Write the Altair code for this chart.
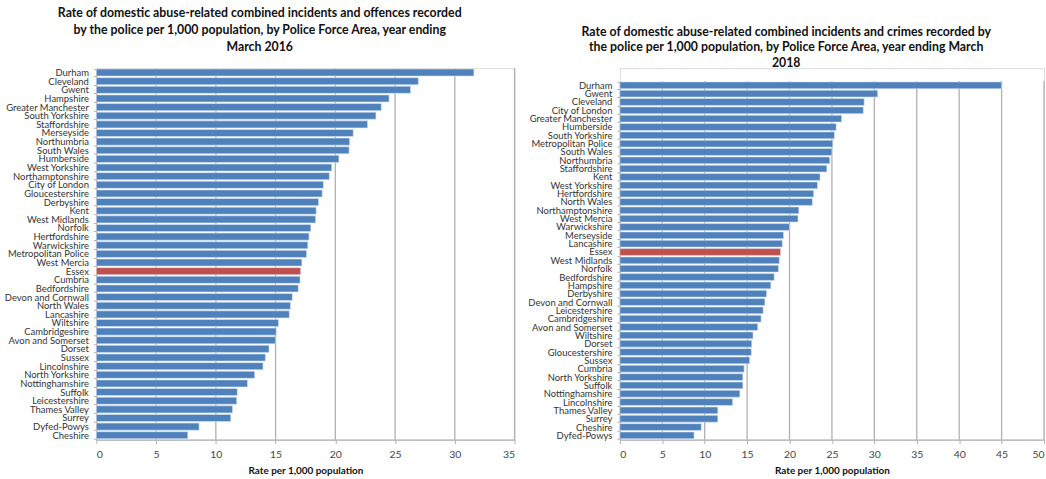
import altair as alt
import pandas as pd

# 2016 chart data
forces_2016 = ["Durham", "Cleveland", "Gwent", "Hampshire", "Greater Manchester", "South Yorkshire",
               "Staffordshire", "Merseyside", "Northumbria", "South Wales", "Humberside", "West Yorkshire",
               "Northamptonshire", "City of London", "Gloucestershire", "Derbyshire", "Kent", "West Midlands",
               "Norfolk", "Hertfordshire", "Warwickshire", "Metropolitan Police", "West Mercia", "Essex",
               "Cumbria", "Bedfordshire", "Devon and Cornwall", "North Wales", "Lancashire", "Wiltshire",
               "Cambridgeshire", "Avon and Somerset", "Dorset", "Sussex", "Lincolnshire", "North Yorkshire",
               "Nottinghamshire", "Suffolk", "Leicestershire", "Thames Valley", "Surrey", "Dyfed-Powys", "Cheshire"]
rates_2016 = [31.6, 26.95, 26.3, 24.5, 23.85, 23.4, 22.7, 21.5, 21.2, 21.15, 20.3, 19.7,
              19.5, 19.0, 18.9, 18.6, 18.4, 18.35, 17.95, 17.8, 17.7, 17.6, 17.2, 17.1,
              17.05, 16.9, 16.4, 16.25, 16.15, 15.25, 15.05, 15.0, 14.45, 14.15, 13.95, 13.25,
              12.65, 11.8, 11.75, 11.4, 11.25, 8.6, 7.65]

# 2018 chart data
forces_2018 = ["Durham", "Gwent", "Cleveland", "City of London", "Greater Manchester", "Humberside",
               "South Yorkshire", "Metropolitan Police", "South Wales", "Northumbria", "Staffordshire", "Kent",
               "West Yorkshire", "Hertfordshire", "North Wales", "Northamptonshire", "West Mercia", "Warwickshire",
               "Merseyside", "Lancashire", "Essex", "West Midlands", "Norfolk", "Bedfordshire", "Hampshire",
               "Derbyshire", "Devon and Cornwall", "Leicestershire", "Cambridgeshire", "Avon and Somerset",
               "Wiltshire", "Dorset", "Gloucestershire", "Sussex", "Cumbria", "North Yorkshire", "Suffolk",
               "Nottinghamshire", "Lincolnshire", "Thames Valley", "Surrey", "Cheshire", "Dyfed-Powys"]
rates_2018 = [45.0, 30.4, 28.8, 28.7, 26.15, 25.5, 25.3, 25.1, 25.0, 24.75, 24.4, 23.6,
              23.3, 22.85, 22.7, 21.1, 21.0, 20.0, 19.3, 19.15, 18.95, 18.8, 18.7, 18.2, 17.8,
              17.3, 17.1, 16.9, 16.65, 16.25, 15.7, 15.55, 15.5, 15.3, 14.65, 14.5, 14.5,
              14.15, 13.3, 11.55, 11.55, 9.6, 8.75]

title_2016 = ["Rate of domestic abuse-related combined incidents and offences recorded",
              "by the police per 1,000 population,  by Police Force Area, year ending",
              "March 2016"]
title_2018 = ["Rate of domestic abuse-related combined incidents and crimes recorded by",
              "the police per 1,000 population,  by Police Force Area, year ending March",
              "2018"]
x_title = "Rate per 1,000 population"

BLUE = "#4f81bd"
RED = "#c0504d"
GRID = "#b0b0b0"
FONT = "Lato"
H = 374


def panel(forces, rates, title, xmax, width, top_gap, title_offset, line_height):
    df = pd.DataFrame({"force": forces, "rate": rates})
    df["highlight"] = df["force"] == "Essex"
    base = alt.Chart(df)
    bars = base.mark_bar(stroke="#dce6f2", strokeWidth=0.6).encode(
        y=alt.Y("force:N", sort=forces, title=None,
                scale=alt.Scale(paddingInner=0.18, paddingOuter=0.1, range=[top_gap, H]),
                axis=alt.Axis(labelFont=FONT, labelFontSize=9.5, labelColor="#333333",
                              labelPadding=5, tickBand="extent", tickSize=3, tickColor=GRID,
                              domainColor=GRID, domainWidth=1.2, grid=False, labelLimit=200)),
        x=alt.X("rate:Q", title=x_title,
                scale=alt.Scale(domain=[0, xmax], nice=False),
                axis=alt.Axis(values=list(range(0, xmax + 1, 5)), labelFont=FONT, labelFontSize=10.5,
                              labelColor="#444444", labelPadding=6, tickSize=4, tickColor=GRID,
                              domainColor=GRID, domainWidth=1.2, grid=False,
                              titleFont=FONT, titleFontSize=10, titleFontWeight="bold",
                              titleColor="#111111", titlePadding=6)),
        color=alt.Color("highlight:N", scale=alt.Scale(domain=[False, True], range=[BLUE, RED]),
                        legend=None),
    )
    grid_df = pd.DataFrame({"v": list(range(5, xmax + 1, 5))})
    grid = alt.Chart(grid_df).mark_rule(color=GRID, strokeWidth=1.3).encode(
        x=alt.X("v:Q", scale=alt.Scale(domain=[0, xmax], nice=False)),
        y=alt.value(top_gap), y2=alt.value(H),
    )
    return alt.layer(grid, bars).properties(
        width=width, height=H,
        title=alt.TitleParams(title, font=FONT, fontSize=12.4, fontWeight="bold", color="#111111",
                              anchor="middle", frame="bounds", lineHeight=line_height,
                              offset=title_offset),
    )


left = panel(forces_2016, rates_2016, title_2016, 35, 421, 0, 10, 17)
right = panel(forces_2018, rates_2018, title_2018, 50, 427, 13, -6, 15.5)

chart = alt.hconcat(left, right, spacing=10).properties(
    padding={"left": 3, "top": 5, "right": 0, "bottom": 0}
).configure_view(stroke=None).configure(background="white")

chart.save("out.html", embed_options={"renderer": "svg", "actions": False})
